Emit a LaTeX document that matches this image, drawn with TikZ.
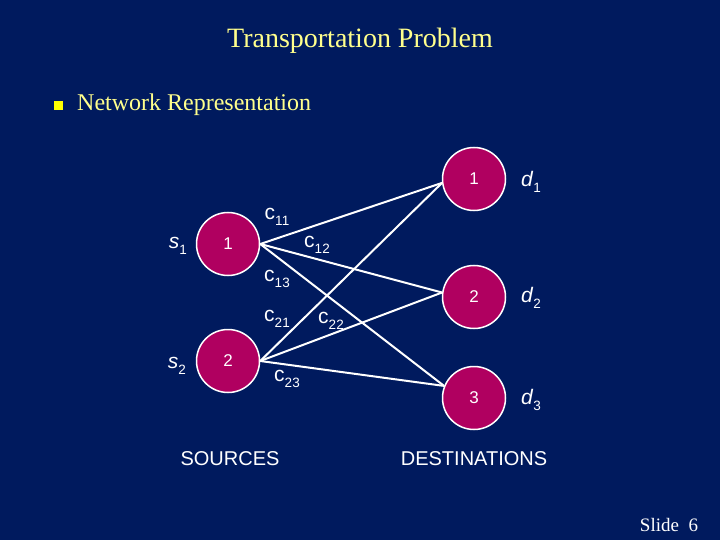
\documentclass[tikz,border=0pt]{standalone}
\usepackage{fontspec}
\setmainfont{Liberation Serif}
\newfontfamily\arialf{Liberation Sans}
\definecolor{bg}{RGB}{0,26,94}
\definecolor{nodefill}{RGB}{176,0,96}
\definecolor{titley}{RGB}{255,255,140}
\definecolor{bullety}{RGB}{255,255,0}
\newcommand{\mysubsc}[1]{\raisebox{-0.3em}{\fontsize{13.5}{16}\selectfont #1}}
\begin{document}
\begin{tikzpicture}[x=1pt,y=-1pt,
  net/.style={circle,draw=white,line width=1.5pt,fill=nodefill,minimum size=63pt,inner sep=0pt,text=white,font=\arialf\fontsize{17}{19}\selectfont},
  lbl/.style={text=white,font=\arialf\fontsize{21}{23}\selectfont,inner sep=0pt},
  captxt/.style={text=white,font=\arialf\fontsize{20}{22}\selectfont,inner sep=0pt},
  conn/.style={white,line width=2pt}]
\fill[bg] (0,0) rectangle (720,540);
\useasboundingbox (0,0) rectangle (720,540);
\node[text=titley,font=\fontsize{28}{32}\selectfont,inner sep=0pt] (title) at (360,41) {Transportation Problem};
\node[fill=bullety,minimum size=9pt,inner sep=0pt] (bul) at (58,106) {};
\node[text=titley,font=\fontsize{24}{28}\selectfont,inner sep=0pt,anchor=west] (sub) at (77,105) {Network Representation};
\node[net] (s1) at (228,244) {1};
\node[net] (s2) at (228,361) {2};
\node[net] (d1) at (474,179) {1};
\node[net] (d2) at (474,297) {2};
\node[net] (d3) at (474,398) {3};
\draw[conn] (s1.east) -- (d1.187);
\draw[conn] (s1.east) -- (d2.172);
\draw[conn] (s1.east) -- (d3.158);
\draw[conn] (s2.east) -- (d1.187);
\draw[conn] (s2.east) -- (d2.172);
\draw[conn] (s2.east) -- (d3.158);
\node[lbl] (ls1) at (178,246) {\textit{s}\mysubsc{1}};
\node[lbl] (ls2) at (177,366) {\textit{s}\mysubsc{2}};
\node[lbl] (ld1) at (531,182) {\textit{d}\mysubsc{1}};
\node[lbl] (ld2) at (531,298) {\textit{d}\mysubsc{2}};
\node[lbl] (ld3) at (531,400) {\textit{d}\mysubsc{3}};
\node[lbl] (c11) at (277,217) {c\mysubsc{11}};
\node[lbl] (c12) at (317,245) {c\mysubsc{12}};
\node[lbl] (c13) at (277,279) {c\mysubsc{13}};
\node[lbl] (c21) at (277,319) {c\mysubsc{21}};
\node[lbl] (c22) at (331,321) {c\mysubsc{22}};
\node[lbl] (c23) at (287,379) {c\mysubsc{23}};
\node[captxt] (src) at (230,459) {SOURCES};
\node[captxt] (dst) at (474,459) {DESTINATIONS};
\node[text=white,font=\fontsize{19}{22}\selectfont,inner sep=0pt] (slide) at (669,525) {Slide\ \ 6};
\end{tikzpicture}
\end{document}
